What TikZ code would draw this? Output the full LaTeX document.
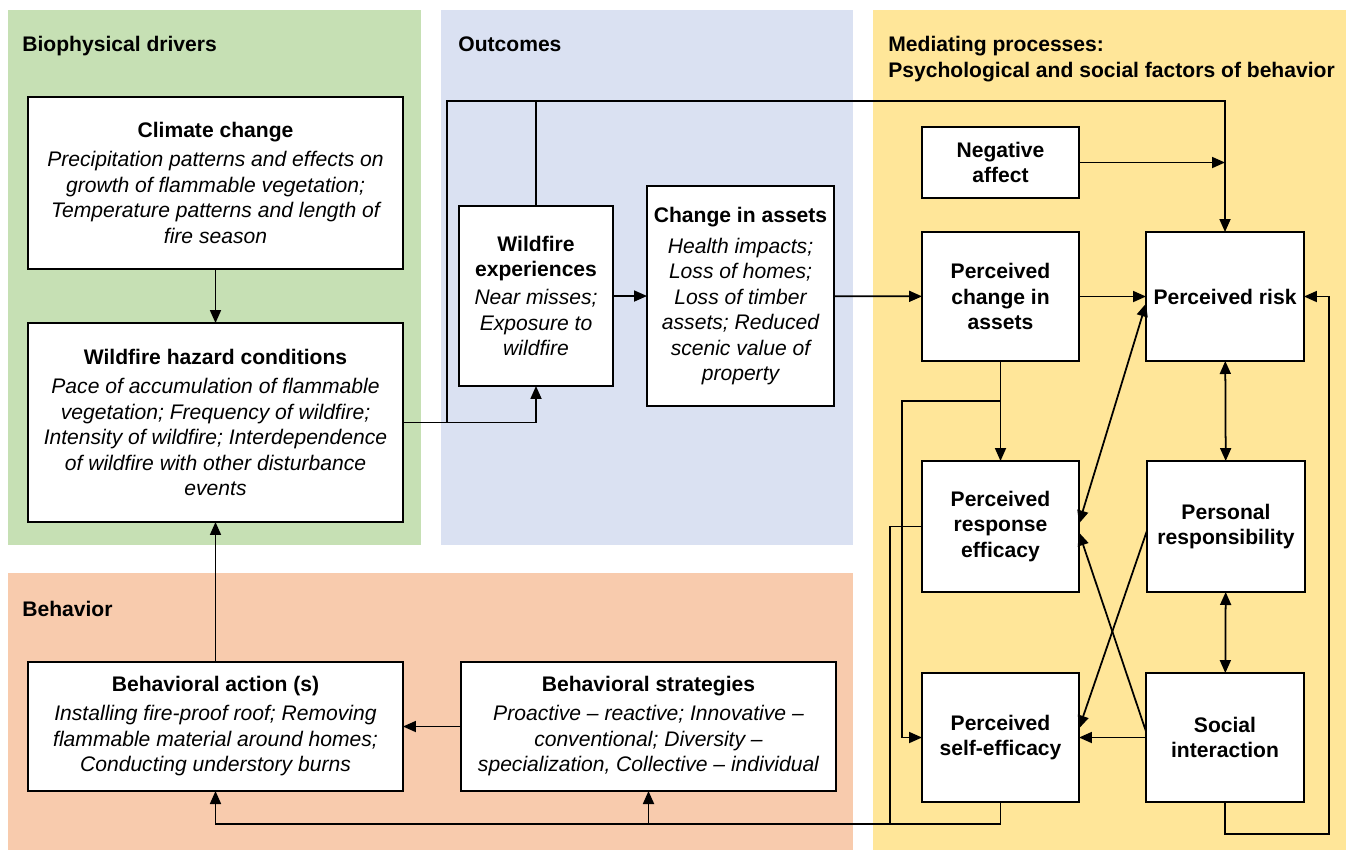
\documentclass[tikz,border=0pt]{standalone}
\usepackage{fontspec}
\setmainfont{Liberation Sans}
\usetikzlibrary{arrows.meta,positioning,calc}
\definecolor{greenbg}{HTML}{C6E0B4}
\definecolor{bluebg}{HTML}{DAE1F2}
\definecolor{orangebg}{HTML}{F8CBAD}
\definecolor{yellowbg}{HTML}{FFE699}
\newcommand{\boxhead}[1]{\textbf{\upshape #1}}

\begin{document}
\begin{tikzpicture}[
  x=0.02cm, y=-0.02cm,
  every node/.style={font=\fontsize{12}{14.5}\selectfont},
  box/.style={draw, line width=0.9pt, fill=white, align=center, inner sep=0pt, outer sep=0pt},
  textbox/.style={box, font=\fontsize{12}{14.5}\selectfont\itshape},
  namebox/.style={box, font=\fontsize{12}{14.5}\selectfont\bfseries},
  paneltitle/.style={font=\fontsize{12}{14.5}\selectfont\bfseries, anchor=base west, inner sep=0pt, align=left},
  arr/.style={-{Triangle[length=2.6mm,width=2.2mm]}, line width=1pt},
  arrs/.style={{Triangle[length=2.6mm,width=2.2mm]}-{Triangle[length=2.6mm,width=2.2mm]}, line width=1pt},
  link/.style={line width=1pt}
]
  \useasboundingbox (0,0) rectangle (1346,850);

  % Panels
  \fill[greenbg] (8,10) rectangle (421,545);
  \fill[bluebg] (441,10) rectangle (853,545);
  \fill[orangebg] (8,573) rectangle (853,850);
  \fill[yellowbg] (873,10) rectangle (1346,850);

  \node[paneltitle] (tbio) at (22,51) {Biophysical drivers};
  \node[paneltitle] (tout) at (458,51) {Outcomes};
  \node[paneltitle] (tmed) at (888,77) {Mediating processes:\\Psychological and social factors of behavior};
  \node[paneltitle] (tbeh) at (22,616) {Behavior};

  % Biophysical drivers
  \node[textbox, minimum width=7.5cm, minimum height=3.44cm] (climate) at (215.5,183)
    {\boxhead{Climate change}\\[2pt]
     Precipitation patterns and effects on\\
     growth of flammable vegetation;\\
     Temperature patterns and length of\\
     fire season};
  \node[textbox, minimum width=7.5cm, minimum height=3.98cm] (hazard) at (215.5,422.5)
    {\boxhead{Wildfire hazard conditions}\\[2pt]
     Pace of accumulation of flammable\\
     vegetation; Frequency of wildfire;\\
     Intensity of wildfire; Interdependence\\
     of wildfire with other disturbance\\
     events};

  % Outcomes
  \node[textbox, minimum width=3.08cm, minimum height=3.6cm] (exper) at (536,296)
    {\boxhead{Wildfire}\\\boxhead{experiences}\\[1.5pt]
     Near misses;\\Exposure to\\wildfire};
  \node[textbox, minimum width=3.74cm, minimum height=4.4cm] (assets) at (740.5,296)
    {\boxhead{Change in assets}\\[3pt]
     Health impacts;\\Loss of homes;\\Loss of timber\\assets; Reduced\\scenic value of\\property};

  % Behavior
  \node[textbox, minimum width=7.5cm, minimum height=2.58cm] (action) at (215.5,726.5)
    {\boxhead{Behavioral action (s)}\\[2pt]
     Installing fire-proof roof; Removing\\
     flammable material around homes;\\
     Conducting understory burns};
  \node[textbox, minimum width=7.5cm, minimum height=2.58cm] (strat) at (648.5,726.5)
    {\boxhead{Behavioral strategies}\\[2pt]
     Proactive -- reactive; Innovative --\\
     conventional; Diversity --\\
     specialization, Collective -- individual};

  % Mediating processes
  \node[namebox, minimum width=3.14cm, minimum height=1.42cm] (negaff) at (1000.5,162.5) {Negative\\affect};
  \node[namebox, minimum width=3.14cm, minimum height=2.58cm] (pchange) at (1000.5,296.5) {Perceived\\change in\\assets};
  \node[namebox, minimum width=3.16cm, minimum height=2.58cm] (prisk) at (1225,296.5) {Perceived risk};
  \node[namebox, minimum width=3.14cm, minimum height=2.62cm] (prespeff) at (1000.5,526.5) {Perceived\\response\\efficacy};
  \node[namebox, minimum width=3.16cm, minimum height=2.62cm] (presp) at (1226,526.5) {Personal\\responsibility};
  \node[namebox, minimum width=3.14cm, minimum height=2.58cm] (pself) at (1000.5,737.5) {Perceived\\self-efficacy};
  \node[namebox, minimum width=3.16cm, minimum height=2.58cm] (social) at (1225,737.5) {Social\\interaction};

  % Junction points
  \coordinate (jhz) at (447,422.5);
  \coordinate (jtop) at (447,101);
  \coordinate (jpc) at (1000.5,401);
  \coordinate (lx1) at (902,401);
  \coordinate (lx2) at (890,824);
  \coordinate (bot) at (215.5,824);
  \coordinate (lr) at (1329,834);

  % Left side links
  \draw[arr] (climate) -- (hazard);
  \draw[arr] (action) -- (hazard);
  \draw[arr] (hazard.east) -| (exper.south);
  \draw[arr] (jhz) -- (jtop) -| (prisk.north);
  \draw[link] (exper.north) -- (exper.north |- jtop);
  \draw[arr] (exper) -- (assets);
  \draw[arr] (assets) -- (pchange);
  \draw[arr] (strat) -- (action);

  % Mediating links
  \draw[arr] (negaff.east) -- (negaff.east -| prisk.north);
  \draw[arr] (pchange) -- (prisk);
  \draw[arr] (pchange) -- (prespeff);
  \draw[arr] (jpc) -- (lx1) |- (pself.west);
  \draw[arrs] (prisk) -- (presp);
  \draw[arrs] (presp) -- (social);
  \draw[arr] (social.south) |- (lr) |- (prisk.east);
  \draw[arrs] ($(prisk.west)+(0,7)$) -- ($(prespeff.east)+(0,-3)$);
  \draw[arr] ($(social.west)+(0,-6)$) -- ($(prespeff.east)+(0,6)$);
  \draw[arr] ($(presp.west)+(0,4)$) -- ($(pself.east)+(0,-9)$);
  \draw[arr] (social) -- (pself);

  % Feedback to behavior
  \draw[link] (prespeff.west) -| (lx2);
  \draw[arr] (pself.south) |- (bot) -- (action.south);
  \draw[arr] (strat.south |- bot) -- (strat.south);
\end{tikzpicture}
\end{document}
